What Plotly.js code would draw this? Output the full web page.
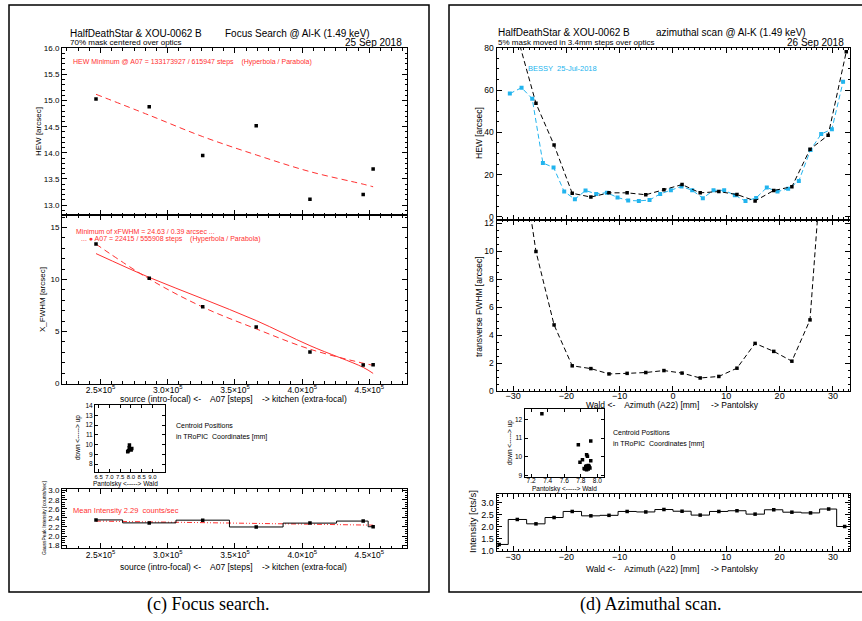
<!DOCTYPE html>
<html><head><meta charset="utf-8">
<script src="https://cdn.plot.ly/plotly-3.0.1.min.js"></script>
<style>body{margin:0;padding:0;background:#fff}</style>
</head><body><div id="chart" style="width:862px;height:621px"></div>
<script>
// ---------- (c) Focus search data ----------
const focusSteps = [246600, 286200, 326000, 365800, 405800, 445400, 452800];
const focusHEW = [15.03, 14.88, 13.95, 14.52, 13.11, 13.20, 13.69];
const hewFitHyperbola = [15.12, 14.72, 14.31, 13.96, 13.64, 13.40, 13.35];
const focusXFWHM = [13.42, 10.13, 7.37, 5.44, 3.03, 1.78, 1.80];
const xfwhmFitHyperbola = [12.49, 10.20, 8.15, 6.05, 3.64, 1.55, 0.97];
const xfwhmFitParabola = [13.40, 10.05, 7.35, 5.25, 3.30, 1.95, 1.75];
const focusCentroidX = [7.93, 7.92, 7.85, 8.01, 7.97, 8.04, 7.88];
const focusCentroidY = [9.96, 9.69, 9.28, 9.45, 9.55, 9.60, 9.38];
const focusIntensity = [2.355, 2.29, 2.35, 2.20, 2.285, 2.33, 2.205];
const meanFitSteps = [246600, 452800];
const meanFitIntensity = [2.33, 2.24];
const stepTickVals = [250000, 300000, 350000, 400000, 450000];
const stepTickText = ['2.5×10<sup>5</sup>', '3.0×10<sup>5</sup>', '3.5×10<sup>5</sup>', '4.0×10<sup>5</sup>', '4.5×10<sup>5</sup>'];
const focusCentroidTickVals = [6.5, 7.0, 7.5, 8.0, 8.5, 9.0];
const focusCentroidTickText = ['6.5', '7.0', '7.5', '8.0', '8.5', '9.0'];

// ---------- (d) Azimuthal scan data ----------
const azHEWx = [-29.1, -25.7, -22.3, -18.9, -15.4, -12.0, -8.6, -5.1, -1.7, 1.7, 5.1, 8.6, 12.0, 15.4, 18.9, 22.3, 25.7, 29.1, 32.5];
const azHEW = [84.6, 53.7, 34.0, 11.2, 9.4, 11.4, 11.4, 10.5, 12.9, 15.3, 11.4, 12.0, 10.6, 7.6, 12.5, 14.3, 32.0, 38.6, 78.1];
const bessyX = [-30.6, -28.4, -26.4, -24.4, -22.4, -20.4, -18.4, -16.4, -14.4, -12.4, -10.4, -8.4, -6.4, -4.4, -2.4, -0.4, 1.6, 3.6, 5.6, 7.6, 9.6, 11.6, 13.6, 15.6, 17.6, 19.6, 21.6, 23.6, 25.8, 27.8, 29.8, 31.9];
const bessyHEW = [58.3, 61.1, 55.9, 25.5, 23.4, 12.0, 8.4, 12.5, 10.9, 11.5, 9.2, 7.8, 7.6, 8.0, 10.9, 12.6, 14.4, 12.6, 8.9, 12.6, 12.6, 10.3, 7.5, 9.0, 13.9, 12.0, 13.3, 17.0, 31.7, 39.2, 41.5, 63.9];
const azFWHMx = [-29.1, -25.7, -22.3, -18.9, -15.4, -12.0, -8.6, -5.1, -1.7, 1.7, 5.1, 8.6, 12.0, 15.4, 18.9, 22.3, 25.7, 29.1];
const azFWHM = [18.7, 9.97, 4.72, 1.80, 1.60, 1.22, 1.26, 1.32, 1.46, 1.28, 0.93, 1.04, 1.63, 3.40, 2.83, 2.13, 5.08, 22.6];
const azCentroidX = [7.33, 7.77, 7.92, 7.87, 7.88, 7.82, 7.79, 7.92, 7.86, 7.89, 7.90, 7.87, 7.91, 7.85, 7.89, 7.88, 7.86, 7.84, 7.90, 7.87];
const azCentroidY = [12.3, 10.64, 10.84, 10.10, 10.02, 9.83, 9.70, 9.78, 9.47, 9.34, 9.43, 9.30, 9.39, 9.34, 9.52, 9.45, 9.40, 9.36, 9.48, 9.50];
const azIntX = [-32.6, -29.2, -25.7, -22.3, -18.9, -15.4, -12.0, -8.6, -5.1, -1.7, 1.7, 5.1, 8.6, 12.0, 15.4, 18.9, 22.3, 25.8, 29.2, 32.2];
const azIntensity = [1.27, 2.30, 2.12, 2.38, 2.63, 2.45, 2.47, 2.63, 2.61, 2.71, 2.64, 2.48, 2.63, 2.66, 2.52, 2.70, 2.60, 2.57, 2.73, 2.01];

// ---------- helpers ----------
const W = 862, H = 621;
const FONT = 'Liberation Sans, Arial, sans-serif';
const RED = '#ff3030', CYAN = '#22b4ee';
const fx = p => p / W;
const fy = p => 1 - p / H;

function axis(x0, x1, range, o) {
  o = o || {};
  const a = {
    domain: [fx(x0), fx(x1)], range: range, showgrid: false, zeroline: false,
    showline: true, linecolor: '#000', linewidth: 1, mirror: 'allticks',
    ticks: 'inside', ticklen: o.ticklen || 5, tickcolor: '#000', tickwidth: 1,
    tickangle: 0,
    tickfont: {family: FONT, size: o.fs || 8, color: '#000'},
    fixedrange: true, automargin: false
  };
  if (o.dtick !== undefined) { a.dtick = o.dtick; a.tick0 = o.tick0 || 0; }
  if (o.fmt) a.tickformat = o.fmt;
  if (o.standoff !== undefined) a.ticklabelstandoff = o.standoff;
  if (o.minor) a.minor = {ticks: 'inside', ticklen: o.minorlen || 2.5, dtick: o.minor, tick0: 0, tickcolor: '#000', showgrid: false};
  if (o.tickvals) { a.tickmode = 'array'; a.tickvals = o.tickvals; a.ticktext = o.ticktext; }
  if (o.nolabels) a.showticklabels = false;
  if (o.anchor) a.anchor = o.anchor;
  return a;
}
function yaxis(y0, y1, range, o) {
  const a = axis(0, 1, range, o);
  a.domain = [fy(y1), fy(y0)];
  a.anchor = o.anchor;
  return a;
}

const mk = (c, s) => ({symbol: 'square', size: s || 3.5, color: c || '#000'});
const traces = [
  // left HEW
  {x: focusSteps, y: hewFitHyperbola, xaxis: 'x', yaxis: 'y', mode: 'lines', line: {color: RED, width: 1, dash: '6px,4px', shape: 'spline'}},
  {x: focusSteps, y: focusHEW, xaxis: 'x', yaxis: 'y', mode: 'markers', marker: mk()},
  // left X_FWHM
  {x: focusSteps, y: xfwhmFitHyperbola, xaxis: 'x2', yaxis: 'y2', mode: 'lines', line: {color: RED, width: 1, shape: 'spline'}},
  {x: focusSteps, y: xfwhmFitParabola, xaxis: 'x2', yaxis: 'y2', mode: 'lines', line: {color: RED, width: 1, dash: '6px,4px', shape: 'spline'}},
  {x: focusSteps, y: focusXFWHM, xaxis: 'x2', yaxis: 'y2', mode: 'markers', marker: mk()},
  // left centroid
  {x: focusCentroidX, y: focusCentroidY, xaxis: 'x3', yaxis: 'y3', mode: 'markers', marker: mk('#000', 3.5)},
  // left intensity
  {x: meanFitSteps, y: meanFitIntensity, xaxis: 'x4', yaxis: 'y4', mode: 'lines', line: {color: RED, width: 1, dash: '5px,2px,1px,2px,1px,2px'}},
  {x: focusSteps, y: focusIntensity, xaxis: 'x4', yaxis: 'y4', mode: 'lines+markers', line: {color: '#000', width: 1, shape: 'hvh'}, marker: mk('#000', 3.5)},
  // right HEW
  {x: bessyX, y: bessyHEW, xaxis: 'x5', yaxis: 'y5', mode: 'lines+markers', line: {color: CYAN, width: 1, dash: '5px,3px'}, marker: mk(CYAN, 4)},
  {x: azHEWx, y: azHEW, xaxis: 'x5', yaxis: 'y5', mode: 'lines+markers', line: {color: '#000', width: 1, dash: '5px,3px'}, marker: mk('#000', 3.5)},
  // right FWHM
  {x: azFWHMx, y: azFWHM, xaxis: 'x6', yaxis: 'y6', mode: 'lines+markers', line: {color: '#000', width: 1, dash: '5px,3px'}, marker: mk('#000', 3.5)},
  // right centroid
  {x: azCentroidX, y: azCentroidY, xaxis: 'x7', yaxis: 'y7', mode: 'markers', marker: mk('#000', 3.5)},
  // right intensity
  {x: azIntX, y: azIntensity, xaxis: 'x8', yaxis: 'y8', mode: 'lines+markers', line: {color: '#000', width: 1, shape: 'hvh'}, marker: mk('#000', 3.5)}
];

const stepRange = [221300, 478000];
const azRange = [-33.1, 33.2];
const layout = {
  width: W, height: H, margin: {l: 0, r: 0, t: 0, b: 0}, showlegend: false,
  paper_bgcolor: '#fff', plot_bgcolor: '#fff', font: {family: FONT, color: '#000'},
  xaxis: axis(62, 407, stepRange, {tickvals: stepTickVals, ticktext: stepTickText, nolabels: true, minor: 50000 / 6, anchor: 'y'}),
  yaxis: yaxis(48.3, 215, [12.81, 16.0], {dtick: 0.5, minor: 0.1, anchor: 'x', fmt: '.1f'}),
  xaxis2: axis(62, 407, stepRange, {tickvals: stepTickVals, ticktext: stepTickText, minor: 50000 / 6, anchor: 'y2', fs: 8.5, standoff: -2}),
  yaxis2: yaxis(215, 383.5, [0, 16.2], {dtick: 5, minor: 1, anchor: 'x2'}),
  xaxis3: axis(95, 164.5, [6.33, 9.56], {tickvals: focusCentroidTickVals, ticktext: focusCentroidTickText, anchor: 'y3', fs: 6, ticklen: 3, standoff: -1}),
  yaxis3: yaxis(405, 471.5, [7.25, 14.05], {dtick: 1, anchor: 'x3', fs: 6.5, ticklen: 3}),
  xaxis4: axis(62, 407, stepRange, {tickvals: stepTickVals, ticktext: stepTickText, minor: 50000 / 6, anchor: 'y4', fs: 8.5, standoff: -2}),
  yaxis4: yaxis(489.3, 548.3, [1.73, 3.03], {dtick: 0.2, minor: 0.05, anchor: 'x4', fs: 8, fmt: '.1f'}),
  xaxis5: axis(496.5, 850, azRange, {dtick: 10, minor: 1, nolabels: true, anchor: 'y5'}),
  yaxis5: yaxis(47.7, 219.5, [-1.2, 80], {dtick: 20, minor: 5, anchor: 'x5', fs: 8.5}),
  xaxis6: axis(496.5, 850, azRange, {dtick: 10, minor: 1, anchor: 'y6', fs: 9, standoff: -4}),
  yaxis6: yaxis(219.5, 391, [0, 12.25], {dtick: 2, minor: 0.5, anchor: 'x6', fs: 8.5}),
  xaxis7: axis(524.5, 604, [7.12, 8.08], {dtick: 0.2, anchor: 'y7', fs: 6.5, ticklen: 3, fmt: '.1f', standoff: -3}),
  yaxis7: yaxis(409.3, 477, [8.91, 12.54], {dtick: 1, anchor: 'x7', fs: 6.5, ticklen: 3}),
  xaxis8: axis(496.5, 850, azRange, {dtick: 10, minor: 1, anchor: 'y8', fs: 9, standoff: -3}),
  yaxis8: yaxis(494, 551, [1.0, 3.35], {dtick: 0.5, minor: 0.1, anchor: 'x8', fs: 9, fmt: '.1f'}),
  shapes: [
    {type: 'rect', xref: 'paper', yref: 'paper', x0: fx(9), x1: fx(429), y0: fy(592), y1: fy(5), line: {color: '#000', width: 1.5}},
    {type: 'rect', xref: 'paper', yref: 'paper', x0: fx(449), x1: fx(875), y0: fy(592), y1: fy(5), line: {color: '#000', width: 1.5}}
  ],
  annotations: []
};

function ann(text, x, y, o) {
  o = o || {};
  layout.annotations.push({
    text: text, xref: 'paper', yref: 'paper', x: fx(x), y: fy(y), showarrow: false,
    xanchor: o.xa || 'left', yanchor: 'middle', textangle: o.rot || 0,
    font: {family: o.family || FONT, size: o.size || 8, color: o.color || '#000'}
  });
}
// left panel texts
ann('HalfDeathStar &amp; XOU-0062 B', 68, 33, {size: 10});
ann('Focus Search @ Al-K (1.49 keV)', 223, 33, {size: 10});
ann('70% mask centered over optics', 68, 42.5, {size: 8});
ann('25 Sep 2018', 404, 42.5, {size: 10, xa: 'right'});
ann('HEW Minimum @ A07 = 133173927 / 615947 steps    (Hyperbola / Parabola)', 71, 62, {size: 7, color: RED});
ann('HEW [arcsec]', 38, 132, {size: 8, rot: -90, xa: 'center'});
ann('Minimum of xFWHM = 24.63 / 0.39 arcsec ...', 74, 231, {size: 7, color: RED});
ann('... ● A07 = 22415 / 555908 steps    (Hyperbola / Parabola)', 79, 239.5, {size: 7, color: RED});
ann('X_FWHM [arcsec]', 43, 300, {size: 8, rot: -90, xa: 'center'});
ann('source (intro-focal) &lt;-    A07 [steps]    -&gt; kitchen (extra-focal)', 233, 399, {size: 8.5, xa: 'center'});
ann('down &lt;-----&gt; up', 78, 438, {size: 6.5, rot: -90, xa: 'center'});
ann('Pantolsky &lt;-----&gt; Wald', 125, 484, {size: 6.5, xa: 'center'});
ann('Centroid Positions', 174, 425.5, {size: 7});
ann('in TRoPIC  Coordinates [mm]', 174, 437, {size: 7});
ann('Mean Intensity 2.29  counts/sec', 71, 510, {size: 7.5, color: RED});
ann('GaussPeak Intensity [counts/sec]', 44, 518, {size: 5, rot: -90, xa: 'center'});
ann('source (intro-focal) &lt;-    A07 [steps]    -&gt; kitchen (extra-focal)', 233, 567, {size: 8.5, xa: 'center'});
// right panel texts
ann('HalfDeathStar &amp; XOU-0062 B', 496, 32.7, {size: 10});
ann('azimuthal scan @ Al-K (1.49 keV)', 654, 32.7, {size: 10});
ann('5% mask moved in 3.4mm steps over optics', 496, 42.5, {size: 8});
ann('26 Sep 2018', 846, 42.5, {size: 10, xa: 'right'});
ann('BESSY  25-Jul-2018', 526, 68, {size: 7.5, color: CYAN});
ann('HEW [arcsec]', 479, 133, {size: 8.5, rot: -90, xa: 'center'});
ann('transverse FWHM [arcsec]', 479, 307, {size: 8.5, rot: -90, xa: 'center'});
ann('Wald &lt;-    Azimuth (A22) [mm]     -&gt; Pantolsky', 672, 405, {size: 8.5, xa: 'center'});
ann('down &lt;-----&gt; up', 510, 443, {size: 6.5, rot: -90, xa: 'center'});
ann('Pantolsky &lt;-----&gt; Wald', 564, 489, {size: 6.5, xa: 'center'});
ann('Centroid Positions', 611, 432.5, {size: 7});
ann('in TRoPIC  Coordinates [mm]', 611, 444, {size: 7});
ann('Intensity [cts/s]', 472, 522, {size: 9.5, rot: -90, xa: 'center'});
ann('Wald &lt;-    Azimuth (A22) [mm]     -&gt; Pantolsky', 672, 569, {size: 8.5, xa: 'center'});
// captions
ann('(c) Focus search.', 208, 604, {size: 18, xa: 'center', family: 'Liberation Serif, DejaVu Serif, serif'});
ann('(d) Azimuthal scan.', 650, 604, {size: 18, xa: 'center', family: 'Liberation Serif, DejaVu Serif, serif'});

Plotly.newPlot('chart', traces, layout, {staticPlot: true, displayModeBar: false});
</script></body></html>
